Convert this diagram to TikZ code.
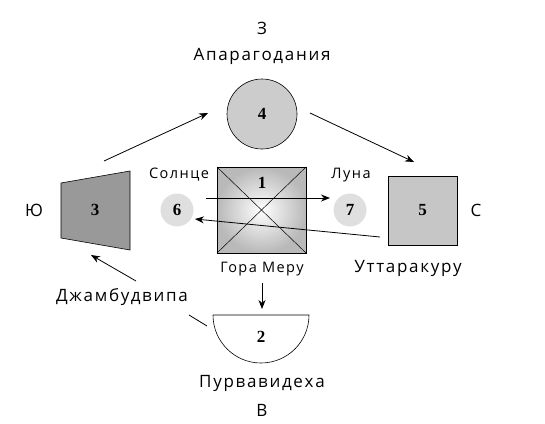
\documentclass[tikz,border=0pt]{standalone}
\usepackage{fontspec}
\setmainfont{Open Sans}[LetterSpace=10]
\newfontfamily\numfont{Liberation Serif}
\usetikzlibrary{arrows.meta}
\begin{document}
\begin{tikzpicture}[x=1pt,y=-1pt,
  lbl/.style={font=\fontsize{17}{19}\selectfont, inner sep=0pt},
  slbl/.style={font=\fontsize{14.5}{16}\selectfont, inner sep=0pt},
  num/.style={font=\numfont\bfseries\fontsize{17}{19}\selectfont, inner sep=0pt},
  conn/.style={line width=0.8pt, -{Stealth[length=9pt,width=7pt]}},
  plain/.style={line width=0.8pt},
  shapeline/.style={draw=black, line width=0.6pt}]
\useasboundingbox (0,0) rectangle (545,423);
% labels
\node[lbl] (zap) at (262,28) {З};
\node[lbl] (apar) at (262,56) {Апарагодания};
\node[lbl] (yu) at (34,210) {Ю};
\node[lbl] (sev) at (476,210) {С};
\node[lbl] (utt) at (408,268) {Уттаракуру};
\node[lbl] (dzh) at (122,297) {Джамбудвипа};
\node[lbl] (purv) at (262,383) {Пурвавидеха};
\node[lbl] (vos) at (262,410) {В};
\node[slbl] (soln) at (179,175) {Солнце};
\node[slbl] (luna) at (351,175) {Луна};
\node[slbl] (meru) at (262,269) {Гора Меру};
% circle 4
\node[circle, shapeline, fill=gray!40, minimum size=70pt, inner sep=0pt] (c4) at (262,114) {};
\node[num] at (c4) {4};
% square 1
\shade[shading=radial, inner color=white, outer color=gray!55] (217,167) rectangle (306,253);
\draw[line width=0.8pt] (217,167) rectangle (306,253);
\draw[line width=0.5pt] (217,167) -- (306,253);
\draw[line width=0.5pt] (306,167) -- (217,253);
\node[num] (n1) at (262,183) {1};
% circles 6, 7
\node[circle, fill=gray!25, minimum size=33pt, inner sep=0pt] (c6) at (177,210) {};
\node[num] at (c6) {6};
\node[circle, fill=gray!25, minimum size=33pt, inner sep=0pt] (c7) at (350,210) {};
\node[num] at (c7) {7};
% trapezoid 3
\draw[shapeline, fill=gray!80] (61,183) -- (130,171) -- (130,250) -- (61,238) -- cycle;
\node[num] (n3) at (95,210) {3};
% square 5
\node[rectangle, shapeline, fill=gray!45, minimum width=69pt, minimum height=69pt, inner sep=0pt] (s5) at (422.5,210.5) {};
\node[num] at (s5) {5};
% half circle 2
\draw[shapeline, fill=white] (213,315) -- (309,315) arc[start angle=0, end angle=180, radius=48];
\node[num] (n2) at (261,337) {2};
% connector coordinates
\coordinate (a1s) at (104,161);
\coordinate (a1e) at (208,113);
\coordinate (a2s) at (310,113);
\coordinate (a2e) at (414,162);
\coordinate (a3s) at (206,198);
\coordinate (a3e) at (330,198);
\coordinate (a4s) at (380,237);
\coordinate (a4e) at (195,219);
\coordinate (a5s) at (262,283);
\coordinate (a5e) at (262,309);
\coordinate (a6s) at (136,281);
\coordinate (a6e) at (91,255);
\coordinate (l1s) at (189,315);
\coordinate (l1e) at (207,326);
\draw[conn] (a1s) -- (a1e);
\draw[conn] (a2s) -- (a2e);
\draw[conn] (a3s) -- (a3e);
\draw[conn] (a4s) -- (a4e);
\draw[conn] (a5s) -- (a5e);
\draw[conn] (a6s) -- (a6e);
\draw[plain] (l1s) -- (l1e);
\end{tikzpicture}
\end{document}
